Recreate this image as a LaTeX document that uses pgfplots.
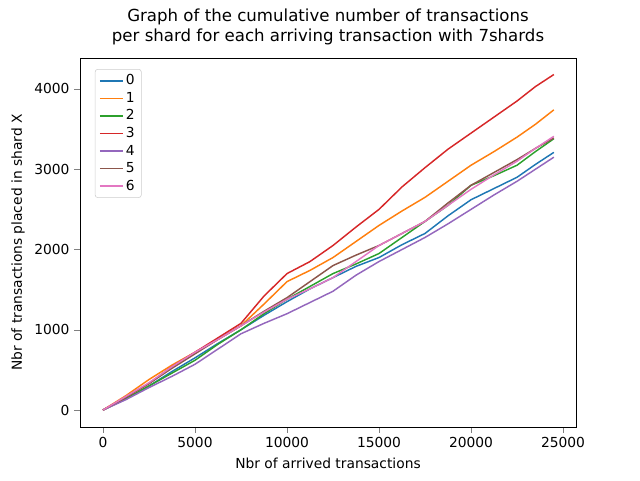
\documentclass[border=0pt]{standalone}
\usepackage{pgfplots}
\pgfplotsset{compat=1.18}
\usepackage{fontspec}
\setmainfont{DejaVu Sans}
\definecolor{c0}{HTML}{1F77B4}\definecolor{c1}{HTML}{FF7F0E}\definecolor{c2}{HTML}{2CA02C}
\definecolor{c3}{HTML}{D62728}\definecolor{c4}{HTML}{9467BD}\definecolor{c5}{HTML}{8C564B}\definecolor{c6}{HTML}{E377C2}
\begin{document}
\fontsize{10.4}{12.5}\selectfont
\begin{tikzpicture}
\begin{axis}[scale only axis, width=5.167in, height=3.844in,
 xmin=-1250, xmax=25707, ymin=-212, ymax=4386,
 xtick={0,5000,10000,15000,20000,25000}, ytick={0,1000,2000,3000,4000},
 scaled ticks=false, /pgf/number format/assume math mode=true,
 xticklabel style={/pgf/number format/1000 sep={}}, yticklabel style={/pgf/number format/1000 sep={}},
 tick align=outside, tick pos=left,
 xlabel={Nbr of arrived transactions}, ylabel={Nbr of transactions placed in shard X},
 title={Graph of the cumulative number of transactions\\per shard for each arriving transaction with 7shards},
 title style={align=center, font=\fontsize{12.5}{15}\selectfont},
 legend pos=north west, legend cell align=left,
 legend style={font=\fontsize{10.4}{12}\selectfont, draw=black!20, rounded corners=2pt},
 every axis plot/.append style={line width=1.1pt}]
\addplot[c0] coordinates {(0,0)(1250,140)(2500,300)(3750,480)(5000,650)(6250,830)(7500,1000)(8750,1180)(10000,1350)(11250,1510)(12500,1650)(13750,1790)(15000,1900)(16250,2060)(17500,2200)(18750,2420)(20000,2620)(21250,2760)(22500,2900)(23500,3060)(24500,3210)};
\addlegendentry{0}
\addplot[c1] coordinates {(0,0)(1250,180)(2500,380)(3750,560)(5000,720)(6250,880)(7500,1050)(8750,1320)(10000,1600)(11250,1740)(12500,1900)(13750,2100)(15000,2300)(16250,2480)(17500,2650)(18750,2850)(20000,3050)(21250,3220)(22500,3400)(23500,3560)(24500,3740)};
\addlegendentry{1}
\addplot[c2] coordinates {(0,0)(1250,140)(2500,300)(3750,460)(5000,620)(6250,820)(7500,1000)(8750,1200)(10000,1380)(11250,1540)(12500,1700)(13750,1820)(15000,1950)(16250,2150)(17500,2350)(18750,2550)(20000,2800)(21250,2920)(22500,3050)(23500,3220)(24500,3380)};
\addlegendentry{2}
\addplot[c3] coordinates {(0,0)(1250,160)(2500,330)(3750,540)(5000,720)(6250,900)(7500,1080)(8750,1420)(10000,1700)(11250,1850)(12500,2050)(13750,2280)(15000,2500)(16250,2780)(17500,3020)(18750,3250)(20000,3450)(21250,3650)(22500,3850)(23500,4030)(24500,4180)};
\addlegendentry{3}
\addplot[c4] coordinates {(0,0)(1250,130)(2500,280)(3750,420)(5000,570)(6250,760)(7500,950)(8750,1080)(10000,1200)(11250,1340)(12500,1480)(13750,1680)(15000,1850)(16250,2000)(17500,2150)(18750,2320)(20000,2500)(21250,2680)(22500,2850)(23500,3000)(24500,3150)};
\addlegendentry{4}
\addplot[c5] coordinates {(0,0)(1250,160)(2500,330)(3750,520)(5000,700)(6250,880)(7500,1050)(8750,1230)(10000,1400)(11250,1600)(12500,1800)(13750,1930)(15000,2050)(16250,2200)(17500,2350)(18750,2580)(20000,2800)(21250,2960)(22500,3120)(23500,3260)(24500,3390)};
\addlegendentry{5}
\addplot[c6] coordinates {(0,0)(1250,170)(2500,340)(3750,540)(5000,720)(6250,880)(7500,1050)(8750,1220)(10000,1380)(11250,1510)(12500,1650)(13750,1850)(15000,2050)(16250,2200)(17500,2350)(18750,2550)(20000,2750)(21250,2930)(22500,3100)(23500,3260)(24500,3410)};
\addlegendentry{6}
\end{axis}
\useasboundingbox (-0.833in,-0.552in) rectangle (5.833in,4.448in);
\end{tikzpicture}
\end{document}
